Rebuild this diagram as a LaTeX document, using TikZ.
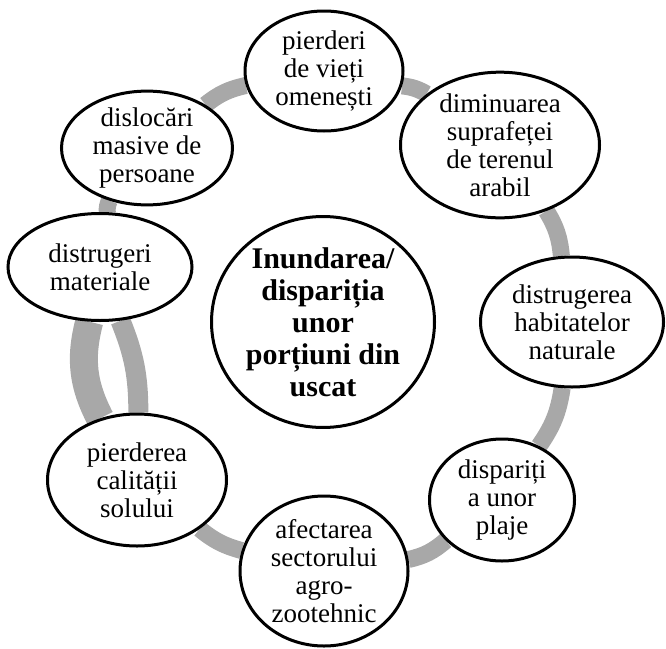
\documentclass[tikz,border=0pt]{standalone}
\usepackage{fontspec}
\setmainfont{Liberation Serif}
\usetikzlibrary{shapes.geometric,backgrounds}
\definecolor{ringgray}{HTML}{A8A8A8}
\begin{document}
\begin{tikzpicture}[x=1pt,y=-1pt,
  bub/.style={ellipse,draw=black,line width=3pt,fill=white,inner sep=0pt,align=center,font=\fontsize{27}{28}\selectfont},
  hub/.style={bub,font=\fontsize{30}{32}\selectfont\bfseries},
  link/.style={draw=ringgray,line width=17pt}]
\useasboundingbox (0,0) rectangle (666,648);
\node[bub,minimum width=158pt,minimum height=120pt] (lives) at (324,71) {pierderi\\de vieți\\omenești};
\node[bub,minimum width=199pt,minimum height=134pt] (arable) at (500,145) {diminuarea\\suprafeței\\de terenul\\arabil};
\node[bub,minimum width=183pt,minimum height=130pt] (habitats) at (572,322) {distrugerea\\habitatelor\\naturale};
\node[bub,minimum width=145pt,minimum height=122pt] (beaches) at (502,500) {dispariți\\a unor\\plaje};
\node[bub,minimum width=168pt,minimum height=150pt] (agri) at (324,571) {afectarea\\sectorului\\agro-\\zootehnic};
\node[bub,minimum width=179pt,minimum height=132pt] (soil) at (137,480) {pierderea\\calității\\solului};
\node[bub,minimum width=184pt,minimum height=107pt] (material) at (100,267) {distrugeri\\materiale};
\node[bub,minimum width=171pt,minimum height=103pt] (displaced) at (147,148) {dislocări\\masive de\\persoane};
\node[hub,minimum width=223pt,minimum height=200pt] (hubnode) at (323,322) {Inundarea/\\dispariția\\unor\\porțiuni din\\uscat};
\begin{scope}[on background layer]
\draw[link] (lives) to[bend left=12] (arable);
\draw[link] (arable) to[bend left=13] (habitats);
\draw[link] (habitats) to[bend left=13] (beaches);
\draw[link] (beaches) to[bend left=14] (agri);
\draw[link] (agri) to[bend left=12] (soil);
\draw[link,line width=28pt] (soil) to[bend left=21] (material);
\draw[link,line width=20pt] (soil) to[bend right=11] (material);
\draw[link] (material) to[bend left=14] (displaced);
\draw[link] (displaced) to[bend left=13] (lives);
\end{scope}
\end{tikzpicture}
\end{document}
